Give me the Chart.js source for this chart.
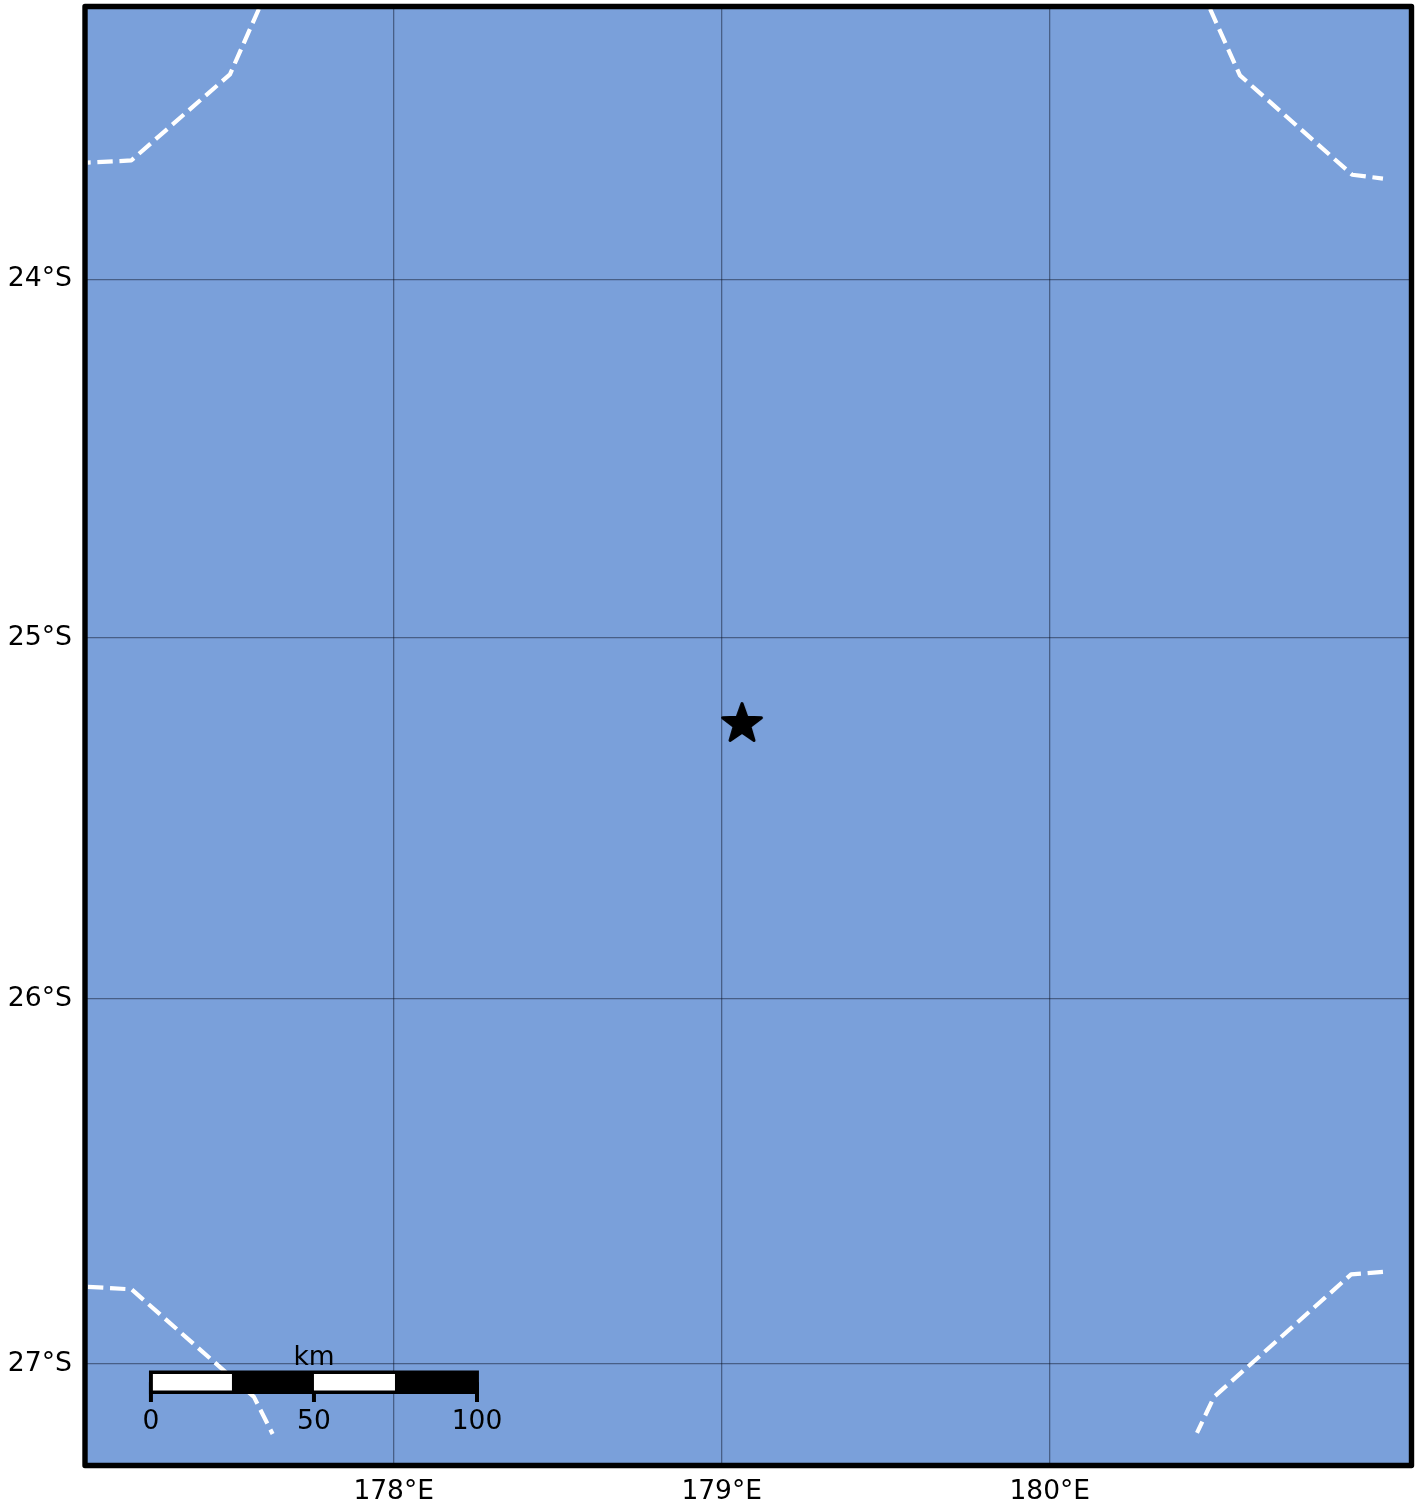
<!DOCTYPE html>
<html>
<head>
<meta charset="utf-8">
<style>html,body{margin:0;padding:0;background:#fff}canvas{display:block}</style>
<script src="https://cdn.jsdelivr.net/npm/chart.js@4"></script>
</head>
<body>
<canvas id="c" width="1422" height="1505"></canvas>
<script>
// ---- values ----
const lonTicks = [178, 179, 180];
const latTicks = [-27, -26, -25, -24];
const lonRange = [177.059, 181.103];
const latRange = [-27.278, -23.234];

const topLeftLon = [177.589, 177.501, 177.200, 177.067];
const topLeftLat = [-23.241, -23.425, -23.667, -23.673];
const topRightLon = [180.489, 180.580, 180.922, 181.016];
const topRightLat = [-23.241, -23.428, -23.707, -23.718];
const bottomRightLon = [181.016, 180.919, 180.501, 180.449];
const bottomRightLat = [-26.749, -26.756, -27.091, -27.189];
const bottomLeftLon = [177.068, 177.201, 177.574, 177.631];
const bottomLeftLat = [-26.790, -26.797, -27.091, -27.192];

const starLon = [179.062];
const starLat = [-25.2395];

const scaleKmLabels = [0, 50, 100];
const scaleUnit = 'km';
const scaleBarLon = [177.260, 178.254]; // longitude of 0 km and 100 km
const scaleBarLat = -27.051;
const scaleTickEndLat = -27.105;
const scaleLabelLat = -27.161;
const scaleUnitLat = -26.985;
const blackKm = [-0.6, 100.6];
const whiteKmA = [0.6, 24.85];
const whiteKmB = [50, 74.85];

// ---- helpers ----
const zip = (xs, ys) => xs.map((x, i) => ({x, y: ys[i]}));
const kmToLon = km => scaleBarLon[0] + (scaleBarLon[1] - scaleBarLon[0]) * km / 100;
const kmLine = (kms, lat) => kms.map(km => ({x: kmToLon(km), y: lat}));

const FONT = '"DejaVu Sans"';
const OCEAN = '#7aa0da';
const GRID = 'rgba(10,15,30,0.45)';

// Mercator-spaced latitude axis
const merc = v => Math.sign(v) * Math.log(Math.tan(Math.PI / 4 + Math.abs(v) * Math.PI / 360));
class MercatorScale extends Chart.LinearScale {
  getPixelForValue(v) {
    const a = merc(this.min), b = merc(this.max);
    return this.getPixelForDecimal((merc(v) - a) / (b - a));
  }
}
MercatorScale.id = 'mercator';
MercatorScale.defaults = Chart.LinearScale.defaults;
Chart.register(MercatorScale);

// Filled five-point star marker
function makeStar(size) {
  const c = document.createElement('canvas');
  c.width = c.height = size;
  const g = c.getContext('2d');
  const R = 20.4, r = R * 0.41, cx = size / 2, cy = size / 2;
  g.beginPath();
  for (let i = 0; i < 10; i++) {
    const rad = i % 2 ? r : R, a = -Math.PI / 2 + i * Math.PI / 5;
    g.lineTo(cx + rad * Math.cos(a), cy + rad * Math.sin(a));
  }
  g.closePath();
  g.fillStyle = '#000'; g.strokeStyle = '#000';
  g.lineWidth = 3; g.lineJoin = 'round';
  g.fill(); g.stroke();
  return c;
}

const lineBase = {showLine: true, pointRadius: 0, tension: 0, fill: false};
const dashed = (data, order) => ({...lineBase, data, order, borderColor: '#fff', borderWidth: 4.2,
  borderDash: [15.4, 6.7], borderCapStyle: 'butt', borderJoinStyle: 'round'});
const solid = (data, color, width, order) => ({...lineBase, data, order, borderColor: color,
  borderWidth: width, borderCapStyle: 'butt'});

const framePlugin = {
  id: 'frame',
  beforeDraw(chart) {
    const {ctx, chartArea: a} = chart;
    ctx.save();
    ctx.fillStyle = OCEAN;
    ctx.fillRect(a.left, a.top, a.right - a.left, a.bottom - a.top);
    ctx.restore();
  },
  afterDatasetsDraw(chart) {
    const {ctx, chartArea: a, scales: {x, y}} = chart;
    ctx.save();
    ctx.fillStyle = '#000';
    ctx.textAlign = 'center';
    ctx.textBaseline = 'middle';
    ctx.font = '26.5px ' + FONT;
    scaleKmLabels.forEach(km => ctx.fillText(String(km), x.getPixelForValue(kmToLon(km)), y.getPixelForValue(scaleLabelLat)));
    ctx.fillText(scaleUnit, x.getPixelForValue(kmToLon(50)), y.getPixelForValue(scaleUnitLat));
    ctx.strokeStyle = '#000';
    ctx.lineWidth = 5.4;
    ctx.lineJoin = 'round';
    ctx.strokeRect(a.left, a.top, a.right - a.left, a.bottom - a.top);
    ctx.restore();
  }
};

new Chart(document.getElementById('c'), {
  type: 'scatter',
  plugins: [framePlugin],
  data: {
    datasets: [
      {data: zip(starLon, starLat), order: 0, showLine: false, pointStyle: makeStar(56), pointRadius: 28},
      solid(kmLine(whiteKmA, scaleBarLat), '#fff', 16.5, 1),
      solid(kmLine(whiteKmB, scaleBarLat), '#fff', 16.5, 1),
      solid(kmLine(blackKm, scaleBarLat), '#000', 23.5, 2),
      ...scaleKmLabels.map(km => solid([{x: kmToLon(km), y: scaleBarLat}, {x: kmToLon(km), y: scaleTickEndLat}], '#000', 4, 3)),
      dashed(zip(topLeftLon, topLeftLat), 4),
      dashed(zip(topRightLon, topRightLat), 4),
      dashed(zip(bottomRightLon, bottomRightLat), 4),
      dashed(zip(bottomLeftLon, bottomLeftLat), 4)
    ]
  },
  options: {
    responsive: false,
    animation: false,
    events: [],
    layout: {autoPadding: false, padding: {left: 0, top: 6.5, right: 10.5, bottom: 0}},
    plugins: {legend: {display: false}, tooltip: {enabled: false}, title: {display: false}},
    scales: {
      x: {
        type: 'linear',
        min: lonRange[0], max: lonRange[1],
        afterBuildTicks: s => { s.ticks = lonTicks.map(value => ({value})); },
        afterFit: s => { s.height = 39.5; s.paddingLeft = 0; s.paddingRight = 0; },
        border: {display: false},
        grid: {color: GRID, lineWidth: 1.3, drawTicks: false},
        ticks: {
          color: '#000', font: {family: FONT, size: 26.5}, padding: 11, autoSkip: false, maxRotation: 0,
          callback: v => v + '°E'
        }
      },
      y: {
        type: 'mercator',
        min: latRange[0], max: latRange[1],
        afterBuildTicks: s => { s.ticks = latTicks.map(value => ({value})); },
        afterFit: s => { s.width = 85; s.paddingTop = 0; s.paddingBottom = 0; },
        border: {display: false},
        grid: {color: GRID, lineWidth: 1.3, drawTicks: false},
        ticks: {
          color: '#000', font: {family: FONT, size: 26.7}, padding: 13, autoSkip: false,
          callback: v => (-v) + '°S'
        }
      }
    }
  }
});
</script>
</body>
</html>
